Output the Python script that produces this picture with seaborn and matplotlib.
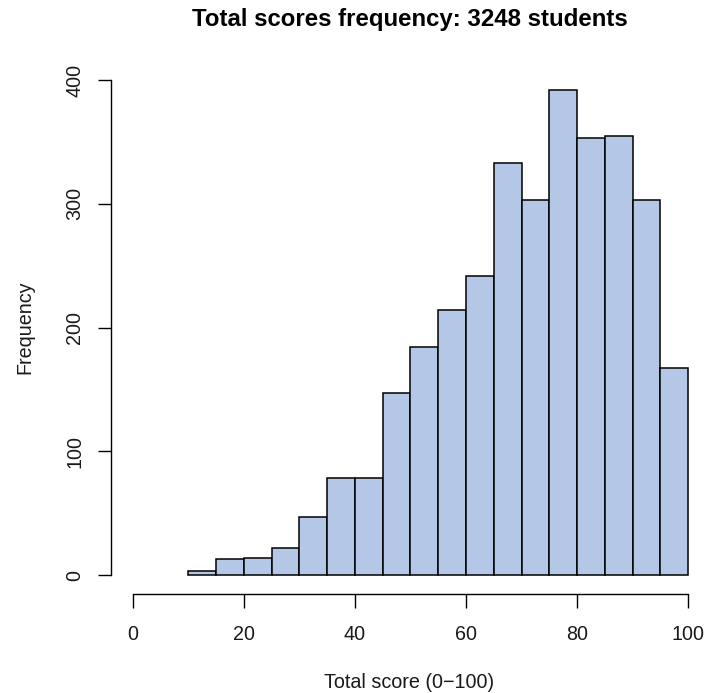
import numpy as np
import pandas as pd
import matplotlib
matplotlib.use("Agg")
import matplotlib.pyplot as plt
import seaborn as sns

# Data (bins of width 5 from 10 to 100)
bin_edges = [10, 15, 20, 25, 30, 35, 40, 45, 50, 55, 60, 65, 70, 75, 80, 85, 90, 95, 100]
counts = [3, 13, 14, 22, 47, 78, 78, 147, 184, 214, 242, 333, 303, 392, 353, 355, 303, 167]
x_ticks = [0, 20, 40, 60, 80, 100]
y_ticks = [0, 100, 200, 300, 400]

centers = [(a + b) / 2 for a, b in zip(bin_edges[:-1], bin_edges[1:])]
df = pd.DataFrame({"score": centers, "n": counts})

sns.set_style("white")
plt.rcParams["font.family"] = ["Liberation Sans", "DejaVu Sans"]

W, H = 708, 693
fig = plt.figure(figsize=(W / 100, H / 100), dpi=100)
left, right, top, bottom = 111, 708, 70, 594
ax = fig.add_axes([left / W, (H - bottom) / H, (right - left) / W, (bottom - top) / H])

sns.histplot(data=df, x="score", weights="n", bins=bin_edges, ax=ax,
             color="#B4C7E7", edgecolor="black", linewidth=1.1, alpha=1.0)

ax.set_xlim(-3.96, 103.6)
ax.set_ylim(-15.35, 408.1)

for s in ["top", "right"]:
    ax.spines[s].set_visible(False)
ax.spines["left"].set_bounds(0, 400)
ax.spines["bottom"].set_bounds(0, 100)
for s in ["left", "bottom"]:
    ax.spines[s].set_linewidth(1.0)
    ax.spines[s].set_color("black")

ax.set_xticks(x_ticks)
ax.set_yticks(y_ticks)
ax.tick_params(axis="both", direction="out", width=1.0, color="black",
               labelsize=14.2, labelcolor="#1a1a1a", bottom=True, left=True)
ax.tick_params(axis="x", length=10, pad=12)
ax.tick_params(axis="y", length=9.4, pad=10, labelrotation=90)
for lab in ax.get_yticklabels():
    lab.set_va("center")

ax.set_xlabel("Total score (0\u2212100)", fontsize=14.2, color="#1a1a1a")
ax.set_ylabel("Frequency", fontsize=14.2, color="#1a1a1a")
ax.xaxis.set_label_coords(0.5, -0.15)
ax.yaxis.set_label_coords(-0.128, 0.51)
ax.set_title("Total scores frequency: 3248 students", fontsize=17.3,
             fontweight="bold", pad=31.5, color="black")

fig.savefig("out.png", dpi=100)
